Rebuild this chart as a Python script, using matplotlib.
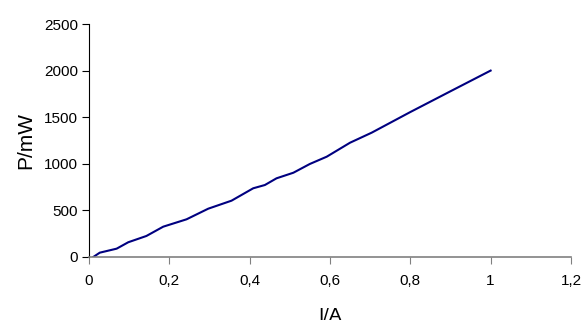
import matplotlib
matplotlib.use("Agg")
import matplotlib.pyplot as plt

current = [0.011, 0.027, 0.069, 0.098, 0.143, 0.185, 0.243, 0.297, 0.355, 0.409,
           0.438, 0.467, 0.509, 0.55, 0.592, 0.65, 0.704, 0.8, 0.9, 1.0]
power = [0, 46, 89, 158, 225, 325, 404, 518, 604, 737,
         772, 844, 904, 998, 1076, 1226, 1334, 1555, 1778, 2000]

x_ticks = [0, 0.2, 0.4, 0.6, 0.8, 1.0, 1.2]
x_labels = ['0', '0,2', '0,4', '0,6', '0,8', '1', '1,2']
y_ticks = [0, 500, 1000, 1500, 2000, 2500]

plt.rcParams['font.family'] = ['Liberation Sans', 'DejaVu Sans']

fig = plt.figure(figsize=(5.85, 3.2), dpi=100)
ax = fig.add_axes([0.152, 0.197, 0.824, 0.728])

ax.plot(current, power, color='#000080', lw=1.5)

ax.set_xlim(0, 1.2)
ax.set_ylim(0, 2500)
ax.set_xticks(x_ticks)
ax.set_xticklabels(x_labels)
ax.set_yticks(y_ticks)

ax.spines['top'].set_visible(False)
ax.spines['right'].set_visible(False)
ax.spines['left'].set_color('black')
ax.spines['bottom'].set_color('#808080')
ax.spines['bottom'].set_linewidth(1.2)
ax.tick_params(axis='x', direction='out', length=5, color='#808080', labelsize=11, pad=7)
ax.tick_params(axis='y', direction='out', length=5, color='black', labelsize=11, pad=3)

ax.set_xlabel('I/A', fontsize=14, labelpad=15)
ax.set_ylabel('P/mW', fontsize=15, labelpad=6)

fig.savefig('out.png', dpi=100)
